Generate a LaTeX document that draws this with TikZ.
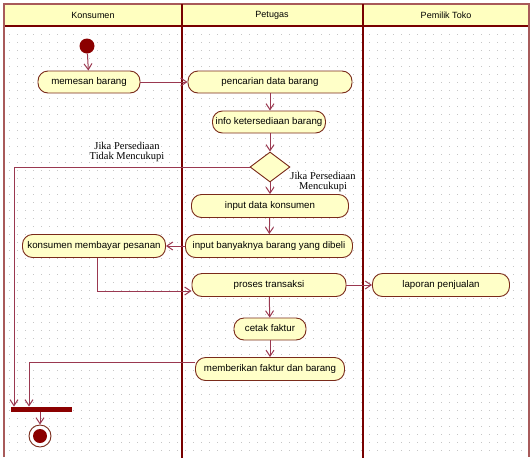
\documentclass[tikz,border=0pt]{standalone}
\usepackage{fontspec}
\setmainfont{Liberation Sans}
\newfontfamily\lblserif{Liberation Serif}
\usetikzlibrary{arrows.meta,shapes.geometric}
\definecolor{nodef}{HTML}{FFFFC8}
\definecolor{nodeb}{HTML}{7A2A1A}
\definecolor{linec}{HTML}{9A3850}
\definecolor{lanec}{HTML}{780000}
\definecolor{framec}{HTML}{A85A5A}
\definecolor{headf}{HTML}{FFFFC0}
\definecolor{solid}{HTML}{8B0000}
\tikzset{
  act/.style={draw=nodeb, fill=nodef, rounded corners=10pt, minimum height=22pt,
    line width=0.9pt, inner sep=0pt, text height=7pt, text depth=2pt,
    font=\fontsize{9.7}{11}\selectfont},
  flow/.style={draw=linec, line width=1pt, -{Straight Barb[length=6pt,width=8pt]}},
  guard/.style={font=\lblserif\fontsize{10.5}{10}\selectfont, align=center, inner sep=0pt},
  headtxt/.style={font=\fontsize{9}{11}\selectfont, inner sep=0pt},
  dotrow/.style={draw=gray!45, line width=0.9pt, dash pattern=on 0.9pt off 7.1pt},
}
\begin{document}
\begin{tikzpicture}[x=1pt,y=-1pt]
\useasboundingbox (0,0) rectangle (532,461);
% dotted grid
\foreach \yy in {34,42,...,454} {
  \draw[dotrow] (9,\yy) -- (527,\yy);
}
% header
\fill[headf] (4,4) rectangle (529,26);
\draw[lanec, line width=1.8pt] (4,26) -- (529,26);
% frame
\draw[framec, line width=1.6pt] (4,457) -- (4,4) -- (529,4) -- (529,457);
% lanes
\draw[lanec, line width=2.6pt] (182,4) -- (182,458);
\draw[lanec, line width=2.6pt] (363,4) -- (363,458);
\node[headtxt] (h1) at (93,15) {Konsumen};
\node[headtxt] (h2) at (272,15) {Petugas};
\node[headtxt] (h3) at (446,15) {Pemilik Toko};

% nodes
\node[circle, fill=solid, minimum size=15pt, inner sep=0pt] (start) at (87,46) {};
\node[act, minimum width=102pt] (pesan) at (89,82) {memesan barang};
\node[act, minimum width=164pt] (cari) at (270,82) {pencarian data barang};
\node[act, minimum width=113pt] (info) at (269,122) {info ketersediaan barang};
\node[diamond, draw=nodeb, fill=nodef, line width=0.9pt, minimum width=40pt, minimum height=30pt, inner sep=0pt] (dec) at (270,167) {};
\node[guard] (gno) at (127,152) {Jika Persediaan\\Tidak Mencukupi};
\node[guard] (gyes) at (323,182) {Jika Persediaan\\Mencukupi};
\node[act, minimum width=157pt, minimum height=23pt] (idata) at (270,206) {input data konsumen};
\node[act, minimum width=167pt, minimum height=23pt] (ibanyak) at (269,246) {input banyaknya barang yang dibeli};
\node[act, minimum width=143pt, minimum height=23pt] (bayar) at (94,246) {konsumen membayar pesanan};
\node[act, minimum width=154pt, minimum height=23pt] (proses) at (269,285) {proses transaksi};
\node[act, minimum width=137pt, minimum height=23pt] (lapor) at (441,285) {laporan penjualan};
\node[act, minimum width=72pt] (cetak) at (270,329) {cetak faktur};
\node[act, minimum width=149pt, minimum height=23pt] (beri) at (270,369) {memberikan faktur dan barang};
\node[fill=solid, minimum width=61pt, minimum height=5pt, inner sep=0pt] (bar) at (41,409) {};
\node[circle, draw=nodeb, fill=white, line width=0.9pt, minimum size=22pt, inner sep=0pt] (endo) at (40,436) {};
\node[circle, fill=solid, minimum size=14pt, inner sep=0pt] (endi) at (40,436) {};

% helper coordinates
\coordinate (c1) at (14,167);
\coordinate (b1) at (14,406.5);
\coordinate (c2) at (97,291);
\coordinate (p1) at (proses.west |- c2);
\coordinate (c3) at (29,362);
\coordinate (m1) at (beri.west |- c3);
\coordinate (b2) at (29,406.5);

% connectors
\draw[flow] (start) -- (pesan);
\draw[flow] (pesan) -- (cari);
\draw[flow] (cari.south -| dec) -- (info.north -| dec);
\draw[flow] (info.south -| dec) -- (dec);
\draw[flow] (dec.west) -- (c1) -- (b1);
\draw[flow] (dec) -- (idata);
\draw[flow] (idata) -- (ibanyak);
\draw[flow] (ibanyak) -- (bayar);
\draw[flow] (bayar.south -| c2) -- (c2) -- (p1);
\draw[flow] (proses) -- (lapor);
\draw[flow] (proses) -- (cetak);
\draw[flow] (cetak) -- (beri);
\draw[flow] (m1) -- (c3) -- (b2);
\draw[flow] (bar.south -| endo) -- (endo);
\end{tikzpicture}
\end{document}
